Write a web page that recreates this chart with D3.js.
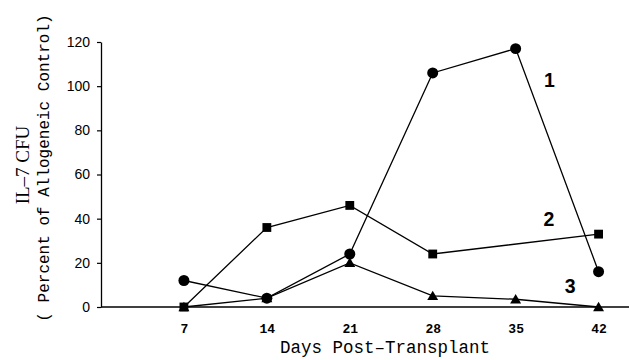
<!DOCTYPE html>
<html>
<head>
<meta charset="utf-8">
<script src="https://cdn.jsdelivr.net/npm/d3@7"></script>
<style>
  html, body { margin: 0; padding: 0; background: #fff; }
  svg { display: block; }
</style>
</head>
<body>
<svg id="chart" width="629" height="360"></svg>
<script>
// Days after transplant at which IL-7 CFU were measured
const days = [7, 14, 21, 28, 35, 42];
const yTicks = [0, 20, 40, 60, 80, 100, 120];

// Group 1 (circles), group 2 (squares), group 3 (triangles); null = not measured
const series1 = [12, 4, 24, 106, 117, 16];
const series2 = [0, 36, 46, 24, null, 33];
const series3 = [0, 4, 20, 5, 3.5, 0];

const seriesNames = ["1", "2", "3"];

const svg = d3.select("#chart");

const x = d3.scaleLinear().domain([0, 44.4]).range([101, 627]);
const y = d3.scaleLinear().domain([0, 120]).range([307, 42]);

// Y axis: ticks pointing outward, labels in a plain sans face
const yAxis = svg.append("g")
  .attr("transform", `translate(${x(0)},0)`)
  .call(d3.axisLeft(y).tickValues(yTicks).tickSize(4).tickPadding(7).tickSizeOuter(0));
yAxis.select(".domain").attr("stroke", "#000").attr("stroke-width", 1.3);
yAxis.selectAll(".tick line").attr("stroke", "#000").attr("stroke-width", 1.2);
yAxis.selectAll(".tick text")
  .attr("font-family", "Liberation Sans, Arial, sans-serif")
  .attr("font-size", 14)
  .attr("fill", "#000");

// X axis: baseline runs to the right edge, no tick marks
const xAxis = svg.append("g")
  .attr("transform", `translate(0,${y(0)})`)
  .call(d3.axisBottom(x).tickValues(days).tickSize(0).tickPadding(17).tickSizeOuter(0));
xAxis.select(".domain").attr("stroke", "#000").attr("stroke-width", 1.3)
  .attr("d", `M${x(0)},0H629`);
xAxis.selectAll(".tick text")
  .attr("font-family", "Liberation Mono, Courier New, monospace")
  .attr("font-weight", "bold")
  .attr("font-size", 13)
  .attr("fill", "#000");

// Axis titles
svg.append("text")
  .attr("x", 385).attr("y", 353)
  .attr("text-anchor", "middle")
  .attr("font-family", "Liberation Mono, Courier New, monospace")
  .attr("font-size", 17.5)
  .attr("fill", "#000")
  .text("Days Post\u2013Transplant");

svg.append("text")
  .attr("transform", "translate(29,165) rotate(-90)")
  .attr("text-anchor", "middle")
  .attr("font-family", "Liberation Serif, Times New Roman, serif")
  .attr("font-size", 19)
  .attr("fill", "#000")
  .text("IL\u20137 CFU");

svg.append("text")
  .attr("transform", "translate(49,168) rotate(-90)")
  .attr("text-anchor", "middle")
  .attr("font-family", "Liberation Mono, Courier New, monospace")
  .attr("font-size", 16)
  .attr("fill", "#000")
  .text("( Percent of Allogeneic Control)");

// Lines and markers
const allSeries = [series1, series2, series3].map(vals =>
  days.map((d, i) => ({ day: d, value: vals[i] })).filter(p => p.value !== null));

const line = d3.line().x(p => x(p.day)).y(p => y(p.value));

const symbolTypes = [d3.symbolCircle, d3.symbolSquare, d3.symbolTriangle];
const symbolSizes = [95, 78, 52];

// Draw triangles first so circles sit above them where points coincide
[2, 1, 0].forEach(si => {
  const pts = allSeries[si];
  svg.append("path")
    .datum(pts)
    .attr("d", line)
    .attr("fill", "none")
    .attr("stroke", "#000")
    .attr("stroke-width", 1.3);
  svg.append("g").selectAll("path")
    .data(pts)
    .join("path")
    .attr("transform", p => `translate(${x(p.day)},${y(p.value) + (si === 2 ? 1 : 0)})`)
    .attr("d", d3.symbol().type(symbolTypes[si]).size(symbolSizes[si]))
    .attr("fill", "#000");
});

// Series number labels beside each curve
const labelPos = [
  { day: 37.85, value: 99.6 },
  { day: 37.8, value: 36.7 },
  { day: 39.6, value: 6.3 }
];
svg.append("g").selectAll("text")
  .data(seriesNames)
  .join("text")
  .attr("x", (d, i) => x(labelPos[i].day))
  .attr("y", (d, i) => y(labelPos[i].value))
  .attr("text-anchor", "middle")
  .attr("font-family", "Liberation Sans, Arial, sans-serif")
  .attr("font-weight", "bold")
  .attr("font-size", 19.5)
  .attr("fill", "#000")
  .text(d => d);
</script>
</body>
</html>
